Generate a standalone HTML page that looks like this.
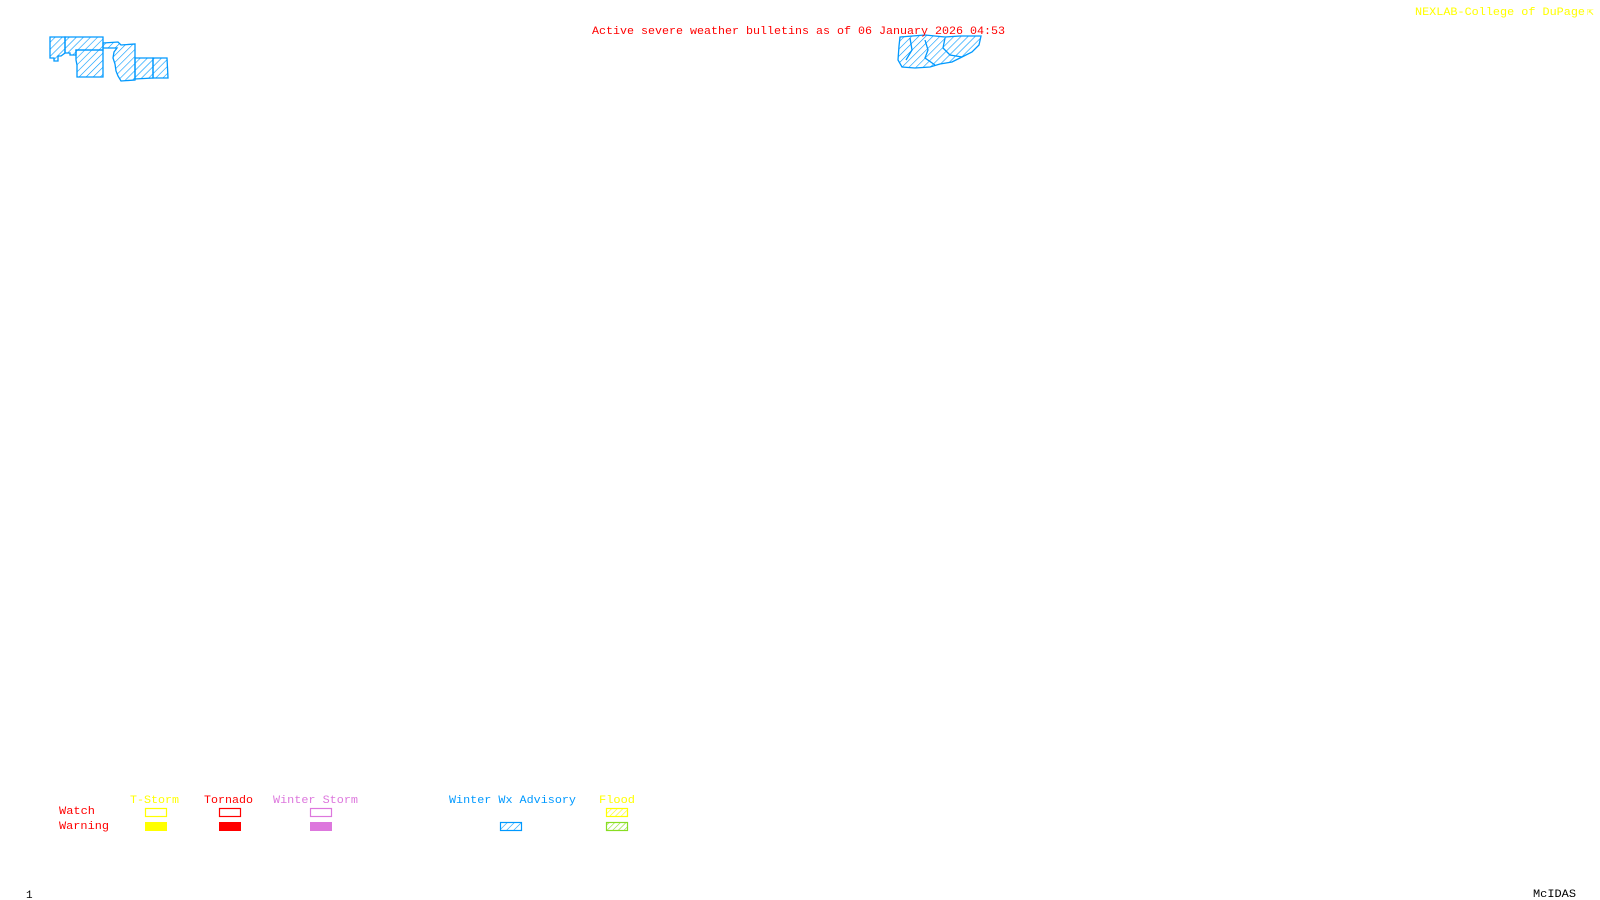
<!DOCTYPE html>
<html><head><meta charset="utf-8"><style>
html,body{margin:0;padding:0;background:#fff;width:1600px;height:900px;overflow:hidden}
svg{display:block}
text{font-family:"Liberation Mono","DejaVu Sans Mono",monospace;font-size:11px}
</style></head><body>
<svg width="1600" height="900" xmlns="http://www.w3.org/2000/svg">
<defs>
<pattern id="hb" width="5" height="5" patternUnits="userSpaceOnUse" patternTransform="rotate(45)">
<line x1="0" y1="0" x2="0" y2="5" stroke="#0099ff" stroke-width="1.2"/></pattern>
<pattern id="hy" width="4" height="4" patternUnits="userSpaceOnUse" patternTransform="rotate(45)">
<line x1="0" y1="0" x2="0" y2="4" stroke="#ffff00" stroke-width="1.2"/></pattern>
<pattern id="hg" width="4" height="4" patternUnits="userSpaceOnUse" patternTransform="rotate(45)">
<line x1="0" y1="0" x2="0" y2="4" stroke="#88dd22" stroke-width="1.2"/></pattern>
</defs>
<g fill="url(#hb)" stroke="#0099ff" stroke-width="1.3">
<polygon points="50,37 65,37 65,53 61,56 58,56 58,61 54,61 54,58 50,58"/>
<polygon points="65,37 103,37 103,50 76,50 76,55 70,55 70,53 65,53"/>
<polygon points="76,50 103,50 103,77 77,77 77,65 76,60"/>
<polygon points="103,43 118,42 121,45 135,44 135,80 121,81 118,76 116,71 115,64 113,58 114,52 117,48 103,48"/>
<polygon points="135,58 153,58 153,78 135,79"/>
<polygon points="153,58 167,58 168,78 153,78"/>
<polygon points="900,37 925,35 945,37 960,36 981,36 979,45 972,52 962,57 952,62 940,64 930,67 915,68 902,67 898,60 899,46"/>
<polyline fill="none" points="910,38 912,50 906,60"/>
<polyline fill="none" points="925,40 928,50 925,58 935,65"/>
<polyline fill="none" points="945,38 943,48 950,55 962,57"/>
</g>
<text x="592" y="34" fill="#ff0000" textLength="413" lengthAdjust="spacingAndGlyphs">Active severe weather bulletins as of 06 January 2026 04:53</text>
<text x="1415" y="15" fill="#ffff00" textLength="170" lengthAdjust="spacingAndGlyphs">NEXLAB-College of DuPage</text>
<text x="1587" y="15" fill="#ffff00">⇱</text>
<text x="130" y="803" fill="#ffff00" textLength="49" lengthAdjust="spacingAndGlyphs">T-Storm</text>
<text x="204" y="803" fill="#ff0000" textLength="49" lengthAdjust="spacingAndGlyphs">Tornado</text>
<text x="273" y="803" fill="#dd77dd" textLength="85" lengthAdjust="spacingAndGlyphs">Winter Storm</text>
<text x="449" y="803" fill="#0099ff" textLength="127" lengthAdjust="spacingAndGlyphs">Winter Wx Advisory</text>
<text x="599" y="803" fill="#ffff00" textLength="36" lengthAdjust="spacingAndGlyphs">Flood</text>
<text x="59" y="814" fill="#ff0000" textLength="36" lengthAdjust="spacingAndGlyphs">Watch</text>
<text x="59" y="829" fill="#ff0000" textLength="50" lengthAdjust="spacingAndGlyphs">Warning</text>
<rect x="145.5" y="808.5" width="21" height="8" fill="none" stroke="#ffff00" stroke-width="1.2"/>
<rect x="145" y="822" width="22" height="9" fill="#ffff00"/>
<rect x="219.5" y="808.5" width="21" height="8" fill="none" stroke="#ff0000" stroke-width="1.2"/>
<rect x="219" y="822" width="22" height="9" fill="#ff0000"/>
<rect x="310.5" y="808.5" width="21" height="8" fill="none" stroke="#dd77dd" stroke-width="1.2"/>
<rect x="310" y="822" width="22" height="9" fill="#dd77dd"/>
<rect x="500.5" y="822.5" width="21" height="8" fill="url(#hb)" stroke="#0099ff" stroke-width="1.2"/>
<rect x="606.5" y="808.5" width="21" height="8" fill="url(#hy)" stroke="#ffff00" stroke-width="1.2"/>
<rect x="606.5" y="822.5" width="21" height="8" fill="url(#hg)" stroke="#88dd22" stroke-width="1.2"/>
<text x="26" y="898" fill="#000" font-size="10">1</text>
<text x="1533" y="897" fill="#000" textLength="43" lengthAdjust="spacingAndGlyphs">McIDAS</text>
</svg>
</body></html>
